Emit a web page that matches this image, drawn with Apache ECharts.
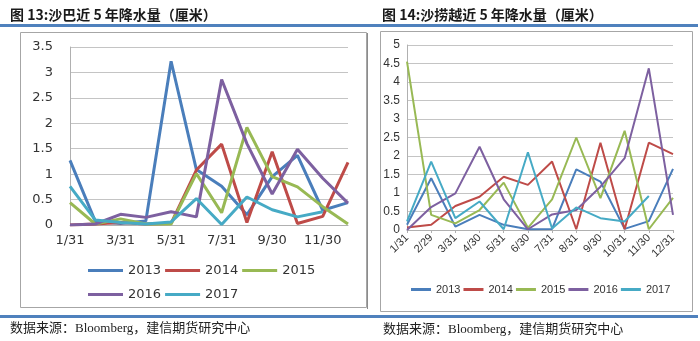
<!DOCTYPE html>
<html>
<head>
<meta charset="utf-8">
<script src="https://cdn.jsdelivr.net/npm/echarts@6/dist/echarts.min.js"></script>
<style>
html,body{margin:0;padding:0;background:#fff;}
#c{width:700px;height:341px;}
</style>
</head>
<body>
<div id="c"></div>
<script>
// ---- Data ----
var years = ['2013', '2014', '2015', '2016', '2017'];
var colors = ['#4a7ebb', '#be4b48', '#98b954', '#7d60a0', '#46aac5'];

// Left: Sabah
var sabahMonths = ['1/31','2/28','3/31','4/30','5/31','6/30','7/31','8/31','9/30','10/31','11/30','12/31'];
var sabah2013 = [1.27, 0.07, 0.03, 0.08, 3.22, 1.09, 0.76, 0.20, 0.95, 1.37, 0.29, 0.44];
var sabah2014 = [0.00, 0.02, 0.05, 0.02, 0.03, 1.08, 1.59, 0.05, 1.44, 0.03, 0.17, 1.23];
var sabah2015 = [0.44, 0.02, 0.12, 0.02, 0.02, 1.01, 0.24, 1.92, 0.95, 0.75, 0.36, 0.02];
var sabah2016 = [0.00, 0.02, 0.21, 0.15, 0.26, 0.16, 2.86, 1.60, 0.61, 1.49, 0.92, 0.43];
var sabah2017 = [0.76, 0.10, 0.05, 0.02, 0.06, 0.52, 0.01, 0.55, 0.30, 0.16, 0.26];
var sabahTicks = [0, 0.5, 1, 1.5, 2, 2.5, 3, 3.5];

// Right: Sarawak
var sarawakMonths = ['1/31','2/29','3/31','4/30','5/31','6/30','7/31','8/31','9/30','10/31','11/30','12/31'];
var sarawak2013 = [0.14, 1.40, 0.09, 0.41, 0.14, 0.02, 0.03, 1.64, 1.31, 0.03, 0.24, 1.65];
var sarawak2014 = [0.07, 0.14, 0.65, 0.90, 1.44, 1.22, 1.85, 0.02, 2.36, 0.02, 2.36, 2.05];
var sarawak2015 = [4.55, 0.41, 0.18, 0.54, 1.28, 0.06, 0.83, 2.50, 0.86, 2.68, 0.02, 0.87];
var sarawak2016 = [0.00, 0.62, 0.99, 2.25, 0.83, 0.02, 0.42, 0.54, 1.17, 1.94, 4.37, 0.41];
var sarawak2017 = [0.23, 1.85, 0.32, 0.77, 0.02, 2.10, 0.04, 0.61, 0.32, 0.23, 0.92];
var sarawakTicks = [0, 0.5, 1, 1.5, 2, 2.5, 3, 3.5, 4, 4.5, 5];

var sabahData = [sabah2013, sabah2014, sabah2015, sabah2016, sabah2017];
var sarawakData = [sarawak2013, sarawak2014, sarawak2015, sarawak2016, sarawak2017];

// ---- Chart ----
var chart = echarts.init(document.getElementById('c'), null, {renderer: 'canvas'});
var series = [];
years.forEach(function (y, i) {
  series.push({
    name: y, type: 'line', xAxisIndex: 0, yAxisIndex: 0,
    data: sabahData[i], symbol: 'none', silent: true,
    lineStyle: {width: 3, color: colors[i]}, itemStyle: {color: colors[i]}
  });
});
years.forEach(function (y, i) {
  series.push({
    name: y, type: 'line', xAxisIndex: 1, yAxisIndex: 1,
    data: sarawakData[i], symbol: 'none', silent: true,
    lineStyle: {width: 2, color: colors[i]}, itemStyle: {color: colors[i]}
  });
});

var gridColor = '#c4c4c4';
var axisGrey = '#b0b0b0';

var option = {
  animation: false,
  color: colors,
  grid: [
    {left: 70, top: 47, width: 278, height: 178},
    {left: 407, top: 45, width: 266, height: 185}
  ],
  xAxis: [
    {
      type: 'category', gridIndex: 0, data: sabahMonths, boundaryGap: false,
      axisLine: {lineStyle: {color: axisGrey, width: 1}},
      axisTick: {show: false},
      axisLabel: {interval: 1, margin: 9, fontSize: 13, fontFamily: 'DejaVu Sans', color: '#333'}
    },
    {
      type: 'category', gridIndex: 1, data: sarawakMonths, boundaryGap: false,
      axisLine: {lineStyle: {color: axisGrey, width: 1}},
      axisTick: {show: true, length: 3, alignWithLabel: true, lineStyle: {color: axisGrey}},
      axisLabel: {interval: 0, rotate: 45, margin: 6, fontSize: 11, fontFamily: 'Liberation Sans', color: '#333'}
    }
  ],
  yAxis: [
    {
      type: 'value', gridIndex: 0, min: sabahTicks[0], max: sabahTicks[sabahTicks.length - 1], interval: 0.5,
      axisLine: {show: true, lineStyle: {color: axisGrey}},
      axisTick: {show: false},
      splitLine: {lineStyle: {color: gridColor, width: 1}},
      axisLabel: {margin: 17, fontSize: 13, fontFamily: 'DejaVu Sans', color: '#333'}
    },
    {
      type: 'value', gridIndex: 1, min: sarawakTicks[0], max: sarawakTicks[sarawakTicks.length - 1], interval: 0.5,
      axisLine: {show: true, lineStyle: {color: axisGrey}},
      axisTick: {show: false},
      splitLine: {lineStyle: {color: gridColor, width: 1}},
      axisLabel: {margin: 7, fontSize: 12, fontFamily: 'Liberation Sans', color: '#333'}
    }
  ],
  legend: [
    {
      data: years.slice(0, 3), left: 83, top: 259, orient: 'horizontal',
      icon: 'rect', itemWidth: 35, itemHeight: 3, itemGap: 4,
      textStyle: {fontSize: 13, fontFamily: 'DejaVu Sans', color: '#333'},
      selectedMode: false
    },
    {
      data: years.slice(3), left: 83, top: 283, orient: 'horizontal',
      icon: 'rect', itemWidth: 35, itemHeight: 3, itemGap: 4,
      textStyle: {fontSize: 13, fontFamily: 'DejaVu Sans', color: '#333'},
      selectedMode: false
    },
    {
      data: years, left: 411, top: 284, width: 285, orient: 'horizontal',
      icon: 'rect', itemWidth: 20, itemHeight: 3, itemGap: 3, padding: 0,
      textStyle: {fontSize: 11, fontFamily: 'Liberation Sans', color: '#333'},
      selectedMode: false
    }
  ],
  graphic: [
    {type: 'rect', silent: true, shape: {x: 0, y: 24, width: 698, height: 3}, style: {fill: '#4f81bd'}},
    {type: 'rect', silent: true, shape: {x: 0, y: 315, width: 698, height: 3}, style: {fill: '#4f81bd'}},
    {type: 'rect', silent: true, shape: {x: 20.5, y: 32.5, width: 346, height: 275}, style: {fill: 'none', stroke: '#a6a6a6', lineWidth: 1}},
    {type: 'line', silent: true, shape: {x1: 367.5, y1: 33, x2: 367.5, y2: 309}, style: {stroke: '#8c8c8c', lineWidth: 1}},
    {type: 'rect', silent: true, shape: {x: 380.5, y: 31.5, width: 312, height: 280}, style: {fill: 'none', stroke: '#a6a6a6', lineWidth: 1}},
    {type: 'text', silent: true, x: 10, y: 15, style: {text: '图 13:沙巴近 5 年降水量（厘米）', font: 'bold 14px "Noto Sans CJK SC"', fill: '#1a1a1a', textVerticalAlign: 'middle'}},
    {type: 'text', silent: true, x: 382, y: 15, style: {text: '图 14:沙捞越近 5 年降水量（厘米）', font: 'bold 14px "Noto Sans CJK SC"', fill: '#1a1a1a', textVerticalAlign: 'middle'}},
    {type: 'text', silent: true, x: 10, y: 329, style: {text: '数据来源：Bloomberg，建信期货研究中心', font: '13px "Liberation Serif", "Noto Sans CJK SC"', fill: '#222', textVerticalAlign: 'middle'}},
    {type: 'text', silent: true, x: 383, y: 330, style: {text: '数据来源：Bloomberg，建信期货研究中心', font: '13px "Liberation Serif", "Noto Sans CJK SC"', fill: '#222', textVerticalAlign: 'middle'}}
  ],
  series: series
};
chart.setOption(option);
</script>
</body>
</html>
